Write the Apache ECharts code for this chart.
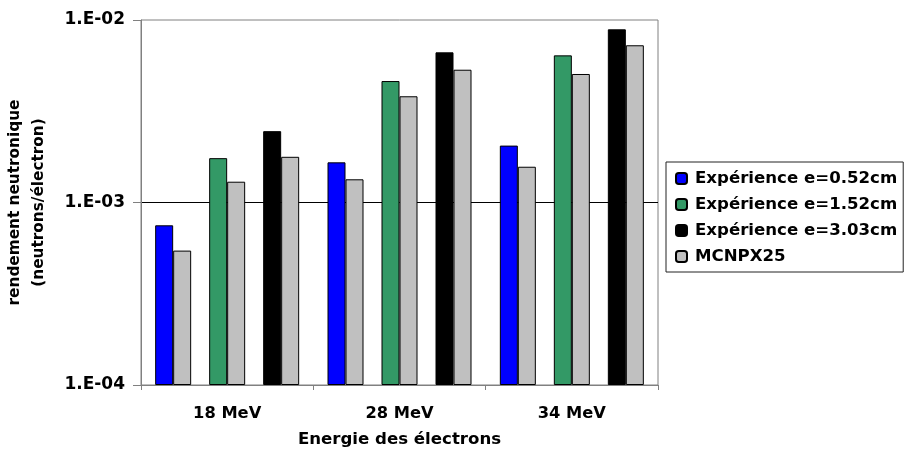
<!DOCTYPE html>
<html>
<head>
<meta charset="utf-8">
<script src="https://cdn.jsdelivr.net/npm/echarts@6/dist/echarts.min.js"></script>
<style>html,body{margin:0;padding:0;background:#fff;}#c{width:904px;height:458px;}</style>
</head>
<body>
<div id="c"></div>
<script>
const categories = ['18 MeV', '28 MeV', '34 MeV'];
const exp052 = [7.5e-4, 1.66e-3, 2.05e-3];
const mcnp052 = [5.45e-4, 1.34e-3, 1.57e-3];
const exp152 = [1.75e-3, 4.63e-3, 6.40e-3];
const mcnp152 = [1.30e-3, 3.82e-3, 5.06e-3];
const exp303 = [2.46e-3, 6.65e-3, 8.89e-3];
const mcnp303 = [1.78e-3, 5.34e-3, 7.27e-3];
const legendNames = ['Expérience e=0.52cm', 'Expérience e=1.52cm', 'Expérience e=3.03cm', 'MCNPX25'];
const yTickLabels = {'-4': '1.E-04', '-3': '1.E-03', '-2': '1.E-02'};

// ECharts log-axis bars start at value 1, so the axis is expressed in units of 1e-4
// (the lower bound of the chart); labels are mapped back to the original units.
const UNIT = 1e-4;
const FONT = 'DejaVu Sans';
const chart = echarts.init(document.getElementById('c'), null, {renderer: 'canvas'});

function scaled(arr) { return arr.map(function (v) { return v / UNIT; }); }
function bar(name, data, color) {
  return {
    name: name, type: 'bar', data: scaled(data), barWidth: 18, barGap: '0%',
    itemStyle: {color: color, borderColor: '#000', borderWidth: 1},
    emphasis: {disabled: true}, animation: false
  };
}
function gap(name) {
  return {name: name, type: 'bar', data: [null, null, null], barWidth: 18, barGap: '0%', animation: false};
}

chart.setOption({
  backgroundColor: '#fff',
  animation: false,
  grid: {left: 141, right: 246, top: 20, bottom: 73, show: true, borderColor: '#808080', borderWidth: 1,
         backgroundColor: '#fff', containLabel: false, outerBoundsMode: 'none'},
  legend: {
    data: legendNames,
    orient: 'vertical', left: 666, top: 162,
    padding: [8, 6, 7, 9],
    itemWidth: 11, itemHeight: 11, itemGap: 9,
    borderColor: '#222', borderWidth: 1,
    selectedMode: false,
    textStyle: {fontFamily: FONT, fontWeight: 'bold', fontSize: 16.6, lineHeight: 16, color: '#000', padding: [0, 0, 0, 3]}
  },
  xAxis: {
    type: 'category', data: categories,
    name: 'Energie des électrons', nameLocation: 'middle', nameGap: 46,
    nameTextStyle: {fontFamily: FONT, fontWeight: 'bold', fontSize: 16.6, color: '#000'},
    axisLine: {lineStyle: {color: '#808080', width: 1}},
    axisTick: {show: true, length: 5, lineStyle: {color: '#808080'}},
    axisLabel: {fontFamily: FONT, fontWeight: 'bold', fontSize: 16.3, color: '#000', margin: 21}
  },
  yAxis: {
    type: 'log', logBase: 10, min: 1e-4 / UNIT, max: 1e-2 / UNIT, interval: 1,
    name: 'rendement neutronique\n(neutrons/électron)', nameLocation: 'middle', nameGap: 90, nameRotate: 90,
    nameTextStyle: {fontFamily: FONT, fontWeight: 'bold', fontSize: 15.3, lineHeight: 24, color: '#000', align: 'center'},
    axisLine: {show: true, lineStyle: {color: '#808080', width: 1}},
    axisTick: {show: true, length: 8, lineStyle: {color: '#808080'}},
    axisLabel: {
      fontFamily: FONT, fontWeight: 'bold', fontSize: 17, color: '#000', margin: 16,
      formatter: function (v) { const e = Math.round(Math.log10(v * UNIT)); return yTickLabels[String(e)] || ''; }
    },
    splitLine: {show: true, showMinLine: false, showMaxLine: false, lineStyle: {color: '#000', width: 1}}
  },
  series: [
    bar(legendNames[0], exp052, '#0000FF'),
    bar(legendNames[3], mcnp052, '#C0C0C0'),
    gap('gap1'),
    bar(legendNames[1], exp152, '#339966'),
    bar(legendNames[3], mcnp152, '#C0C0C0'),
    gap('gap2'),
    bar(legendNames[2], exp303, '#000000'),
    bar(legendNames[3], mcnp303, '#C0C0C0')
  ]
});
</script>
</body>
</html>
